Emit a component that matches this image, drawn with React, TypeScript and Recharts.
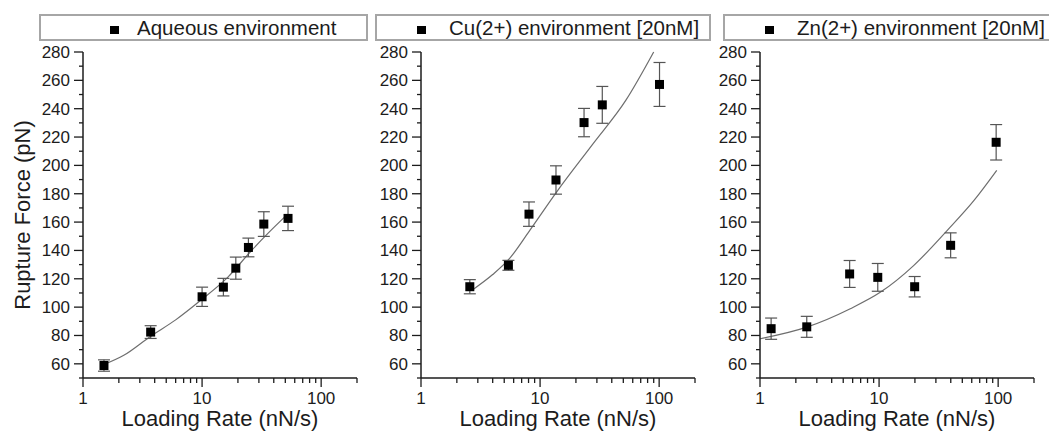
import { ComposedChart, Scatter, Line, XAxis, YAxis, ErrorBar, ZAxis } from 'recharts';

// Aqueous environment
const aqRate = [1.5, 3.7, 10, 15.1, 19.2, 24.5, 33, 52.7];
const aqForce = [58.8, 82.4, 107.3, 114.1, 127.5, 142.1, 158.6, 162.6];
const aqErr = [4, 4.5, 6.8, 6.2, 7.8, 6.6, 8.7, 8.6];
const aqFitRate = [1.5, 2.2, 3.7, 6, 9.8, 16.4, 25.8, 35.7, 50];
const aqFitForce = [59.5, 66, 79.5, 91, 105, 121, 139.6, 152, 164];

// Cu(2+) environment
const cuRate = [2.57, 5.42, 8.07, 13.6, 23.4, 33.3, 100.7];
const cuForce = [114.4, 129.5, 165.6, 189.7, 230.2, 242.7, 257.1];
const cuErr = [5, 3.5, 8.6, 10, 10, 13, 15.5];
const cuFitRate = [2.74, 4, 5.5, 8.17, 13.7, 27.7, 52.6, 90];
const cuFitForce = [112.5, 123, 134, 154, 181, 215, 246, 280];

// Zn(2+) environment
const znRate = [1.24, 2.47, 5.66, 9.75, 19.9, 39.9, 96.2];
const znForce = [84.8, 86.1, 123.4, 121, 114.4, 143.6, 216.3];
const znErr = [7.5, 7.4, 9.5, 9.8, 7.2, 8.8, 12.5];
const znFitRate = [1, 2.47, 5.73, 10.3, 19.6, 37.4, 62.7, 97.3];
const znFitForce = [77.7, 85.9, 98.9, 110.6, 129.5, 154.2, 175.3, 196.5];

const legendNames = ['Aqueous environment', 'Cu(2+) environment [20nM]', 'Zn(2+) environment [20nM]'];

const xMajor = [1, 10, 100];
const xTicks = [1, 2, 3, 4, 5, 6, 7, 8, 9, 10, 20, 30, 40, 50, 60, 70, 80, 90, 100, 200];
const yMajor = [60, 80, 100, 120, 140, 160, 180, 200, 220, 240, 260, 280];
const yTicks = [50, 60, 70, 80, 90, 100, 110, 120, 130, 140, 150, 160, 170, 180, 190, 200, 210, 220, 230, 240, 250, 260, 270, 280];

const FONT = '"Liberation Sans", Arial, sans-serif';
const INK = '#1c1c1c';

const pts = (xs: number[], ys: number[], es?: number[]) =>
  xs.map((x, i) => ({ x, y: ys[i], err: es ? es[i] : 0 }));

const panels = [
  { name: legendNames[0], data: pts(aqRate, aqForce, aqErr), fit: pts(aqFitRate, aqFitForce), left: 0, yLabel: true,
    box: { left: 39, width: 329 }, marker: 110, text: 137 },
  { name: legendNames[1], data: pts(cuRate, cuForce, cuErr), fit: pts(cuFitRate, cuFitForce), left: 338, yLabel: false,
    box: { left: 375, width: 336 }, marker: 417, text: 449 },
  { name: legendNames[2], data: pts(znRate, znForce, znErr), fit: pts(znFitRate, znFitForce), left: 677, yLabel: false,
    box: { left: 723, width: 340 }, marker: 765, text: 797 },
];

const XTick = (props: any) => {
  const { x, y, payload } = props;
  const major = xMajor.includes(payload.value);
  return (
    <g>
      <line x1={x} y1={y} x2={x} y2={y + (major ? 9 : 5)} stroke={INK} strokeWidth={1.3} />
      {major && (
        <text x={x} y={y + 20} dy="0.35em" textAnchor="middle" fontSize={17} fontFamily={FONT} fill={INK}>
          {payload.value}
        </text>
      )}
    </g>
  );
};

const YTick = (props: any) => {
  const { x, y, payload } = props;
  const major = yMajor.includes(payload.value);
  return (
    <g>
      <line x1={x} y1={y} x2={x - (major ? 9 : 4)} y2={y} stroke={INK} strokeWidth={1.3} />
      {major && (
        <text x={x - 13} y={y} dy="0.35em" textAnchor="end" fontSize={17} fontFamily={FONT} fill={INK}>
          {payload.value}
        </text>
      )}
    </g>
  );
};

function Panel({ p }: { p: (typeof panels)[number] }) {
  return (
    <div style={{ position: 'absolute', left: p.left, top: 0 }}>
      <ComposedChart width={367} height={432} margin={{ top: 52, right: 10, bottom: 0, left: 0 }}>
        <XAxis
          dataKey="x"
          type="number"
          scale="log"
          domain={[1, 200]}
          allowDataOverflow
          ticks={xTicks}
          interval={0}
          tick={<XTick />}
          tickLine={false}
          tickSize={0}
          tickMargin={0}
          height={54}
          axisLine={{ stroke: INK, strokeWidth: 1.5 }}
          label={{ value: 'Loading Rate (nN/s)', position: 'insideBottom', offset: 6, fontSize: 22, fontFamily: FONT, fill: INK }}
        />
        <YAxis
          type="number"
          domain={[50, 280]}
          ticks={yTicks}
          interval={0}
          tick={<YTick />}
          tickLine={false}
          tickSize={0}
          tickMargin={0}
          width={83}
          axisLine={{ stroke: INK, strokeWidth: 1.5 }}
          label={
            p.yLabel
              ? { value: 'Rupture Force (pN)', angle: -90, position: 'insideLeft', offset: 22, fontSize: 22, fontFamily: FONT, fill: INK, style: { textAnchor: 'middle' } }
              : undefined
          }
        />
        <ZAxis range={[81, 81]} />
        <Line data={p.fit} dataKey="y" type="monotone" stroke="#6e6e6e" strokeWidth={1.2} dot={false} isAnimationActive={false} />
        <Scatter data={p.data} dataKey="y" fill="#000" shape="square" isAnimationActive={false}>
          <ErrorBar dataKey="err" direction="y" width={6} stroke="#555" strokeWidth={1.2} />
        </Scatter>
      </ComposedChart>
    </div>
  );
}

function LegendBox({ p }: { p: (typeof panels)[number] }) {
  return (
    <div
      style={{
        position: 'absolute',
        left: p.box.left,
        top: 14,
        width: p.box.width,
        height: 27,
        boxSizing: 'border-box',
        border: '2px solid #a6a6a6',
        background: '#fff',
      }}
    >
      <div
        style={{ position: 'absolute', left: p.marker - p.box.left - 2, top: 10, width: 9, height: 8, background: '#000' }}
      />
      <span
        style={{
          position: 'absolute',
          left: p.text - p.box.left - 2,
          top: 0,
          lineHeight: '23px',
          fontSize: 20.5,
          fontFamily: FONT,
          color: INK,
          whiteSpace: 'nowrap',
        }}
      >
        {p.name}
      </span>
    </div>
  );
}

export default function App() {
  return (
    <div style={{ position: 'absolute', left: 0, top: 0, width: 1049, height: 432, overflow: 'hidden', background: '#fff' }}>
      {panels.map((p, i) => (
        <Panel key={i} p={p} />
      ))}
      {panels.map((p, i) => (
        <LegendBox key={'l' + i} p={p} />
      ))}
    </div>
  );
}
